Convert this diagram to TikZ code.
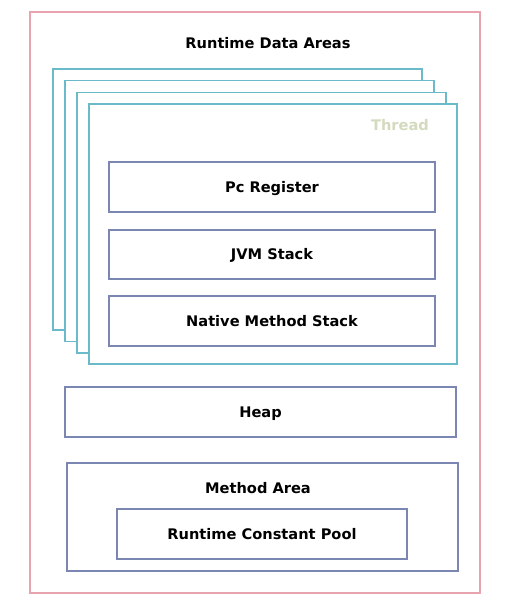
\documentclass[tikz,border=0pt]{standalone}
\usepackage{fontspec}
\setmainfont{DejaVu Sans}
\definecolor{areapink}{HTML}{E8A3AE}
\definecolor{threadteal}{HTML}{6BBAC9}
\definecolor{boxslate}{HTML}{7C86B2}
\definecolor{threadgrey}{HTML}{D3DBBF}

\begin{document}
\begin{tikzpicture}[x=1pt, y=-1pt,
    label text/.style={font=\bfseries\fontsize{14.6}{17}\selectfont, inner sep=0pt, text height=10.6pt, text depth=0pt},
    area box/.style={rectangle, draw=boxslate, line width=1.4pt, fill=white, inner sep=0pt, label text},
    thread frame/.style={draw=threadteal, line width=1.4pt, fill=white}]
\useasboundingbox (0,0) rectangle (519,606);
% runtime data areas
\node [rectangle, draw=areapink, line width=1.3pt, minimum width=450pt, minimum height=581pt] (runtime) at (255,302.5) {};
\node [label text] (runtimelabel) at (268,43) {Runtime Data Areas};
% stacked threads, back to front
\foreach \i in {0,1,2} {
    \draw [thread frame] (53+12*\i,69+11.6*\i) rectangle (422+12*\i,330+11.4*\i);
}
\node [rectangle, thread frame, minimum width=368pt, minimum height=260pt] (thread) at (273,234) {};
\node [label text, text=threadgrey] (threadlabel) at (400,125) {Thread};
% per-thread areas
\node [area box, minimum width=326pt, minimum height=50pt] (pc) at (272,187) {Pc Register};
\node [area box, minimum width=326pt, minimum height=49pt] (jvm) at (272,254.5) {JVM Stack};
\node [area box, minimum width=326pt, minimum height=50pt] (native) at (272,321) {Native Method Stack};
% shared areas
\node [area box, minimum width=391pt, minimum height=50pt] (heap) at (260.5,412) {Heap};
\node [area box, minimum width=391pt, minimum height=108pt] (method) at (262.5,517) {};
\node [label text] (methodlabel) at (258,488) {Method Area};
\node [area box, minimum width=290pt, minimum height=50pt] (pool) at (262,534) {Runtime Constant Pool};
\end{tikzpicture}
\end{document}
